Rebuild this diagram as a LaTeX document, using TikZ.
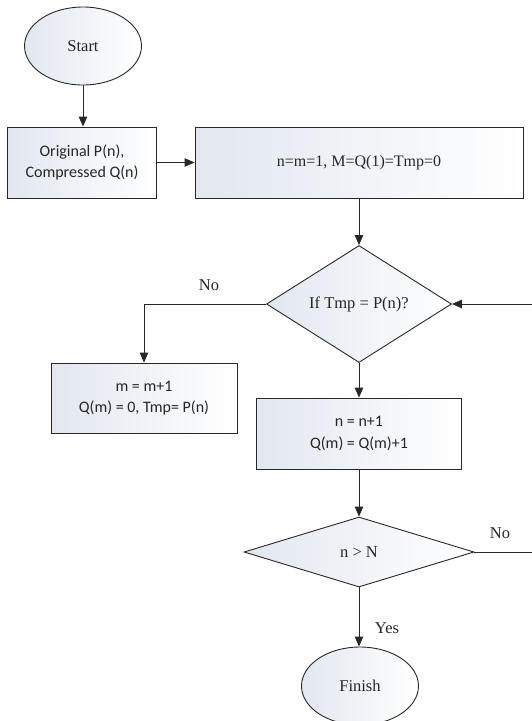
\documentclass[tikz,border=0pt]{standalone}
\usepackage{fontspec}
\setmainfont{Liberation Serif}
\newfontfamily\boxfont{Carlito}
\usetikzlibrary{shapes.geometric,arrows.meta}

\definecolor{shapefill}{RGB}{226,231,240}
\definecolor{linecol}{RGB}{40,40,40}

\tikzset{
  base/.style={draw=linecol, line width=0.9pt, inner sep=0pt,
    left color=shapefill, right color=white, text=black!85},
  terminal/.style={base, ellipse, minimum width=117, minimum height=78,
    font=\fontsize{16.5}{20}\selectfont},
  procbox/.style={base, rectangle, align=center,
    font=\boxfont\fontsize{16}{21.5}\selectfont},
  serifbox/.style={base, rectangle, align=center,
    font=\fontsize{16}{20}\selectfont},
  decision/.style={base, diamond, font=\fontsize{16.5}{20}\selectfont},
  flowlabel/.style={font=\fontsize{16.5}{20}\selectfont, text=black!85},
  flow/.style={draw=linecol, line width=0.9pt,
    -{Triangle[length=10pt,width=8.5pt]}}
}

\begin{document}
\begin{tikzpicture}[x=1pt, y=-1pt]
  \useasboundingbox (0,0) rectangle (531,721);

  % start and input
  \node[terminal] (start) at (83,46) {Start};
  \node[procbox, minimum width=149, minimum height=71] (orig) at (82,162.5)
    {Original P(n),\\Compressed Q(n)};
  \node[serifbox, minimum width=328, minimum height=71] (init) at (359,162.5)
    {n=m=1, M=Q(1)=Tmp=0};

  % first test
  \node[decision, minimum width=185, minimum height=117] (test) at (359,304)
    {If Tmp = P(n)?};
  \node[procbox, minimum width=186, minimum height=70] (newrun) at (144,398)
    {m = m+1\\Q(m) = 0, Tmp= P(n)};
  \node[procbox, minimum width=205, minimum height=71] (count) at (359,433.5)
    {n = n+1\\Q(m) = Q(m)+1};

  % end test
  \node[decision, minimum width=230, minimum height=70] (last) at (359,552)
    {n > N};
  \node[terminal] (finish) at (360,686) {Finish};

  % labels
  \node[flowlabel] (nolabelA) at (209,285) {No};
  \node[flowlabel] (nolabelB) at (500,533) {No};
  \node[flowlabel] (yeslabel) at (387,628) {Yes};

  % loop-back line runs along the right edge
  \coordinate (loopturn) at (533,552);

  % connectors
  \draw[flow] (start.south) -- (start.south |- orig.north);
  \draw[flow] (orig.east) -- (init.west);
  \draw[flow] (init.south) -- (test.north);
  \draw[flow] (test.west) -| (newrun.north);
  \draw[flow] (test.south) -- (count.north);
  \draw[flow] (count.south) -- (last.north);
  \draw[flow] (last.south) -- (last.south |- finish.north);
  \draw[flow] (last.east) -- (loopturn) |- (test.east);
\end{tikzpicture}
\end{document}
